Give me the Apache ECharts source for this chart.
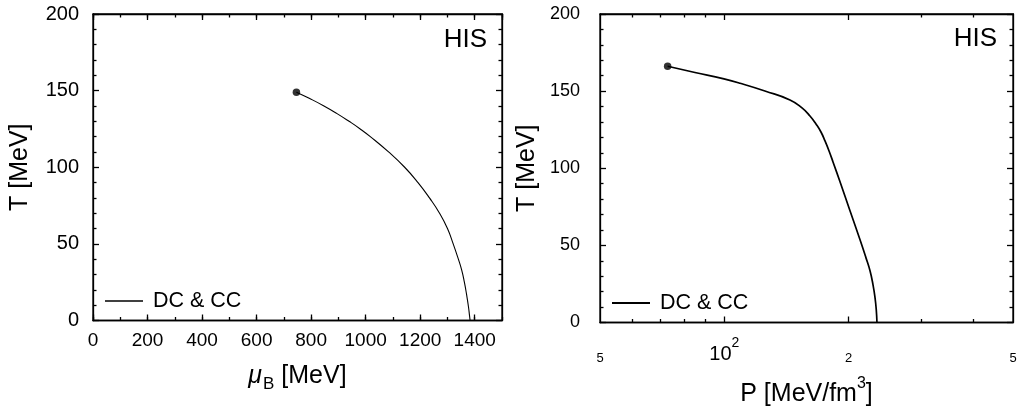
<!DOCTYPE html>
<html>
<head>
<meta charset="utf-8">
<script src="https://cdn.jsdelivr.net/npm/echarts@6/dist/echarts.min.js"></script>
<style>
html,body{margin:0;padding:0;background:#fff;}
#chart{width:1025px;height:408px;}
</style>
</head>
<body>
<div id="chart"></div>
<script>
// ---- data ----
// left panel: T vs mu_B
const muB   = [746, 793, 847, 895, 939, 980, 1017, 1084, 1143, 1192, 1234, 1271, 1300, 1321, 1340, 1352, 1362, 1370, 1377, 1381, 1383];
const T_mu  = [149, 145, 140, 135, 130, 125, 120, 110, 100, 90, 80, 70, 60, 50, 40, 33, 25, 17, 9, 3, 0];
// right panel: T vs P
const P     = [72.9, 84.9, 99.8, 109.2, 125.4, 144.2, 154.2, 161.2, 166.7, 171.4, 175.3, 179.3, 183.3, 190.6, 201.5, 213.1, 220.3, 225.3, 229.1, 231.7, 233.3, 234.2];
const T_P   = [166.1, 162.1, 157.9, 155.1, 150.1, 144.3, 139.1, 133.9, 128.7, 123.5, 117.7, 111.2, 104.1, 91.2, 72.4, 53.6, 41.9, 33.5, 24.4, 16.0, 8.2, 0];
// axis ticks / labels
const muMajor = 200, muMinor = 100, muMin = 0, muMax = 1500;
const tMajor = 50, tMinorSplit = 5, tMin = 0, tMax = 200;
const pMin = 50, pMax = 500;
const pTickVals   = [50, 100, 200, 500];
const pTickLabels = ['5', '10|2', '2', '5'];
const pMajorTicks = [100, 200];
const pMinorTicks = [60, 70, 80, 90, 300, 400];
const seriesName = 'DC & CC';
const panelTag = 'HIS';

const FONT = 'Liberation Sans, Arial, Helvetica, sans-serif';
const black = '#000';
const lw = 1.3;

function lineAxisStyle(show){ return {show: show, onZero:false, lineStyle:{color:black, width:lw}}; }
function tick(len, extra){ return Object.assign({show:true, inside:true, length:len, lineStyle:{color:black, width:lw}}, extra||{}); }

const lg = Math.log10;
const pLabelFmt = function(v){
  for (let i = 0; i < pTickVals.length; i++) {
    if (Math.abs(lg(pTickVals[i]) - v) < 1e-6) {
      const t = pTickLabels[i];
      if (t.indexOf('|') >= 0) { const p = t.split('|'); return '{b|' + p[0] + '}{sup|' + p[1] + '}'; }
      return '{s|' + t + '}';
    }
  }
  return '';
};

const chart = echarts.init(document.getElementById('chart'), null, {renderer:'canvas'});

const grids = [
  {left:93, top:14, width:409, height:306.5, show:true, borderColor:black, borderWidth:lw, backgroundColor:'transparent', containLabel:false, outerBoundsMode:'none'},
  {left:600, top:14, width:413, height:308.5, show:true, borderColor:black, borderWidth:lw, backgroundColor:'transparent', containLabel:false, outerBoundsMode:'none'}
];

const xAxes = [
  // 0: left bottom major (data axis)
  {gridIndex:0, type:'value', position:'bottom', min:muMin, max:muMax, interval:muMajor,
   axisLine:lineAxisStyle(true), axisTick:tick(6), splitLine:{show:false},
   axisLabel:{show:true, color:black, fontFamily:FONT, fontSize:19, margin:11, showMaxLabel:false, formatter: v => String(v)},
   name:'{i|μ}{sub|B}{n| [MeV]}', nameLocation:'middle', nameGap:43,
   nameTextStyle:{color:black, fontFamily:FONT, fontSize:25,
     rich:{i:{fontFamily:FONT, fontSize:25, fontStyle:'italic', color:black, verticalAlign:'bottom'},
           sub:{fontFamily:FONT, fontSize:17, color:black, verticalAlign:'bottom', padding:[0,0,-4,1]},
           n:{fontFamily:FONT, fontSize:25, color:black, verticalAlign:'bottom'}}}},
  // 1: left bottom minor
  {gridIndex:0, type:'value', position:'bottom', min:muMin, max:muMax, interval:muMinor,
   axisLine:lineAxisStyle(false), axisTick:tick(3.5), axisLabel:{show:false}, splitLine:{show:false}},
  // 2: left top major
  {gridIndex:0, type:'value', position:'top', min:muMin, max:muMax, interval:muMajor,
   axisLine:lineAxisStyle(true), axisTick:tick(6), axisLabel:{show:false}, splitLine:{show:false}},
  // 3: left top minor
  {gridIndex:0, type:'value', position:'top', min:muMin, max:muMax, interval:muMinor,
   axisLine:lineAxisStyle(false), axisTick:tick(3.5), axisLabel:{show:false}, splitLine:{show:false}},
  // 4: right bottom log data axis
  {gridIndex:1, type:'log', logBase:10, position:'bottom', min:pMin, max:pMax,
   axisLine:lineAxisStyle(false), axisTick:{show:false}, axisLabel:{show:false}, splitLine:{show:false}, minorTick:{show:false}},
  // 5: right bottom major ticks + labels
  {gridIndex:1, type:'value', position:'bottom', min:lg(pMin), max:lg(pMax),
   axisLine:lineAxisStyle(true), axisTick:tick(6, {customValues: pMajorTicks.map(lg)}), splitLine:{show:false},
   axisLabel:{show:true, customValues: pTickVals.map(lg), formatter:pLabelFmt, margin:20,
     rich:{s:{fontFamily:FONT, fontSize:13, color:black, lineHeight:22, verticalAlign:'bottom'},
           b:{fontFamily:FONT, fontSize:20, color:black, lineHeight:22, verticalAlign:'bottom'},
           sup:{fontFamily:FONT, fontSize:14, color:black, lineHeight:22, verticalAlign:'top', padding:[-6,0,0,0]}}},
   name:'{n|P [MeV/fm}{sup|3}{n|]}', nameLocation:'middle', nameGap:59,
   nameTextStyle:{color:black, fontFamily:FONT, fontSize:25,
     rich:{n:{fontFamily:FONT, fontSize:25, color:black, verticalAlign:'bottom'},
           sup:{fontFamily:FONT, fontSize:16, color:black, verticalAlign:'top', padding:[-6,0,0,0]}}}},
  // 6: right bottom minor ticks
  {gridIndex:1, type:'value', position:'bottom', min:lg(pMin), max:lg(pMax),
   axisLine:lineAxisStyle(false), axisTick:tick(3.5, {customValues: pMinorTicks.map(lg)}), axisLabel:{show:false}, splitLine:{show:false}},
  // 7: right top major
  {gridIndex:1, type:'value', position:'top', min:lg(pMin), max:lg(pMax),
   axisLine:lineAxisStyle(true), axisTick:tick(6, {customValues: pMajorTicks.map(lg)}), axisLabel:{show:false}, splitLine:{show:false}},
  // 8: right top minor
  {gridIndex:1, type:'value', position:'top', min:lg(pMin), max:lg(pMax),
   axisLine:lineAxisStyle(false), axisTick:tick(3.5, {customValues: pMinorTicks.map(lg)}), axisLabel:{show:false}, splitLine:{show:false}}
];

function yAxisFor(gi, pos, labels, margin, fs){
  const a = {gridIndex:gi, type:'value', position:pos, min:tMin, max:tMax, interval:tMajor,
    axisLine:lineAxisStyle(true), axisTick:tick(6), minorTick:{show:true, splitNumber:tMinorSplit, length:3.5, lineStyle:{color:black, width:lw}},
    splitLine:{show:false}, minorSplitLine:{show:false},
    axisLabel:{show:labels, color:black, fontFamily:FONT, fontSize:fs, margin:margin}};
  if (labels) {
    a.name = 'T [MeV]'; a.nameLocation = 'middle'; a.nameGap = 60; a.nameRotate = 90;
    a.nameTextStyle = {color:black, fontFamily:FONT, fontSize:25};
  }
  return a;
}
const yAxes = [yAxisFor(0,'left',true,14,20), yAxisFor(0,'right',false,0,18), yAxisFor(1,'left',true,20,18), yAxisFor(1,'right',false,0,18)];

const leftLine = muB.map((m,i) => [m, T_mu[i]]);
const rightLine = P.map((p,i) => [p, T_P[i]]);

const legendText = {color:black, fontFamily:FONT, fontSize:21.5, padding:[0,0,0,5]};
const option = {
  animation:false,
  backgroundColor:'#fff',
  grid: grids,
  xAxis: xAxes,
  yAxis: yAxes,
  legend: [
    {data:[{name:seriesName, icon:'rect'}], left:105, top:290, itemWidth:38, itemHeight:1.5, itemGap:0, padding:0, selectedMode:false,
     itemStyle:{color:black}, textStyle:legendText},
    {data:[{name:seriesName, icon:'rect'}], left:612, top:292, itemWidth:38, itemHeight:1.8, itemGap:0, padding:0, selectedMode:false,
     itemStyle:{color:black}, textStyle:legendText}
  ],
  graphic: [
    {type:'text', right:1025-487, top:27, style:{text:panelTag, fill:black, font:'26px ' + FONT}},
    {type:'text', right:1025-997, top:26, style:{text:panelTag, fill:black, font:'26px ' + FONT}}
  ],
  series: [
    {name:seriesName, type:'line', xAxisIndex:0, yAxisIndex:0, data:leftLine, symbol:'none', smooth:0.5,
     lineStyle:{color:black, width:1.1}, itemStyle:{color:black}},
    {type:'scatter', xAxisIndex:0, yAxisIndex:0, data:[leftLine[0]], symbolSize:7.5, itemStyle:{color:black}},
    {name:seriesName, type:'line', xAxisIndex:4, yAxisIndex:2, data:rightLine, symbol:'none', smooth:0.5,
     lineStyle:{color:black, width:1.7}, itemStyle:{color:black}},
    {type:'scatter', xAxisIndex:4, yAxisIndex:2, data:[rightLine[0]], symbolSize:7.5, itemStyle:{color:black}}
  ]
};
chart.setOption(option);
</script>
</body>
</html>
